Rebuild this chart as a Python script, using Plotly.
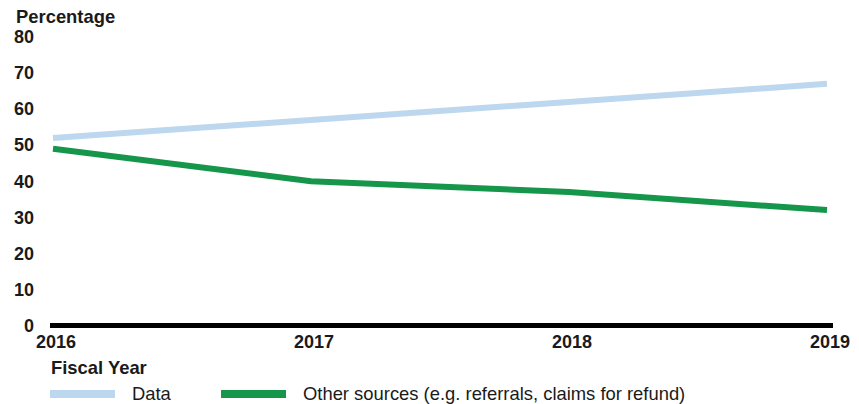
import plotly.graph_objects as go

years = [2016, 2017, 2018, 2019]
data_pct = [52, 57, 62, 67]
other_pct = [49, 40, 37, 32]
y_ticks = [0, 10, 20, 30, 40, 50, 60, 70, 80]
series_names = ["Data", "Other sources (e.g. referrals, claims for refund)"]
colors = ["#BDD7EE", "#16964A"]

W, H = 859, 404
ML, MR, MT, MB = 50, 26, 37, 75
PW, PH = W - ML - MR, H - MT - MB

def px(x):
    return (x - ML) / PW

def py(y):
    return (H - MB - y) / PH

FONT = "Liberation Sans, Arial, sans-serif"
TXT = "#1a1a1a"
FS = 18

fig = go.Figure()
for name, vals, col in zip(series_names, [data_pct, other_pct], colors):
    fig.add_trace(go.Scatter(x=years, y=vals, mode="lines", name=name,
                             line=dict(color=col, width=6), cliponaxis=False,
                             showlegend=False, hoverinfo="skip"))

fig.update_layout(
    width=W, height=H,
    margin=dict(l=ML, r=MR, t=MT, b=MB),
    paper_bgcolor="white", plot_bgcolor="white",
    font=dict(family=FONT, color=TXT),
    xaxis=dict(range=[2016 - 3 / 258, 2019 + 6 / 258], tickvals=years,
               showticklabels=False, showgrid=False, zeroline=False, showline=False),
    yaxis=dict(range=[-1, 80], tickvals=y_ticks, showgrid=False,
               zeroline=True, zerolinecolor="black", zerolinewidth=5,
               showline=False, ticklabelstandoff=15,
               tickfont=dict(size=FS, family=FONT, color=TXT, weight="bold")),
)

# x tick labels as text anchored on the data x positions
for yr in years:
    fig.add_annotation(x=yr, y=py(342), xref="x", yref="paper", xanchor="center",
                       yanchor="middle", xshift=3, text=f"<b>{yr}</b>", showarrow=False,
                       font=dict(size=FS, family=FONT, color=TXT))

fig.add_annotation(x=px(14), y=py(16), xref="paper", yref="paper", xanchor="left",
                   yanchor="middle", text="<b>Percentage</b>", showarrow=False,
                   font=dict(size=18.4, family=FONT, color=TXT))
fig.add_annotation(x=px(49), y=py(367), xref="paper", yref="paper", xanchor="left",
                   yanchor="middle", text="<b>Fiscal Year</b>", showarrow=False,
                   font=dict(size=18.4, family=FONT, color=TXT))

leg_x = [(50, 115, 131), (221, 286, 302)]
for (x0, x1, tx), name, col in zip(leg_x, series_names, colors):
    fig.add_shape(type="line", xref="paper", yref="paper", x0=px(x0), x1=px(x1),
                  y0=py(394), y1=py(394), line=dict(color=col, width=8))
    fig.add_annotation(x=px(tx), y=py(393), xref="paper", yref="paper", xanchor="left",
                       yanchor="middle", text=name, showarrow=False, borderpad=0,
                       font=dict(size=18.4, family=FONT, color=TXT))

fig.write_html("out.html", config={"displayModeBar": False},
               post_script="document.body.style.margin='0';document.body.style.padding='0';")
